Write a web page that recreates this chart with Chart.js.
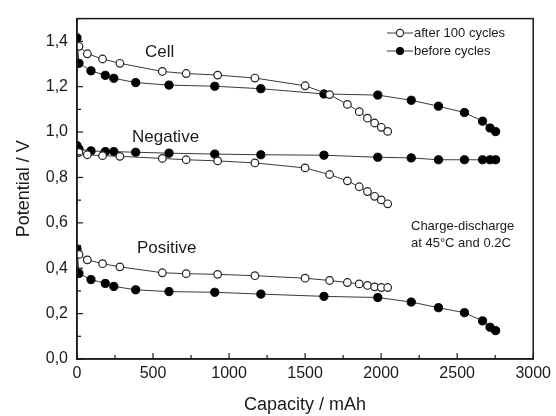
<!DOCTYPE html>
<html><head><meta charset="utf-8">
<script src="https://cdn.jsdelivr.net/npm/chart.js@4.4.1/dist/chart.umd.min.js"></script>
<style>html,body{margin:0;padding:0;background:#fff}#w{width:556px;height:416px}</style>
</head><body><div id="w"><canvas id="c"></canvas></div>
<script>
// capacity (mAh)
const capAfter  = [13, 68, 168, 282, 561, 718, 925, 1170, 1500, 1661, 1778, 1856, 1910, 1957, 2001, 2043];
const capBefore = [0, 13, 92, 186, 242, 386, 605, 906, 1209, 1624, 1978, 2198, 2377, 2548, 2667, 2716, 2753];
// potentials (V)
const cellAfter  = [1.378, 1.345, 1.322, 1.303, 1.267, 1.258, 1.251, 1.238, 1.204, 1.165, 1.122, 1.090, 1.061, 1.040, 1.021, 1.003];
const cellBefore = [1.415, 1.303, 1.270, 1.250, 1.237, 1.218, 1.207, 1.202, 1.191, 1.168, 1.163, 1.140, 1.114, 1.086, 1.048, 1.018, 1.002];
const negAfter   = [0.910, 0.900, 0.896, 0.893, 0.884, 0.878, 0.873, 0.864, 0.842, 0.813, 0.785, 0.759, 0.738, 0.717, 0.701, 0.684];
const negBefore  = [0.940, 0.925, 0.917, 0.914, 0.914, 0.911, 0.907, 0.903, 0.900, 0.898, 0.889, 0.886, 0.878, 0.878, 0.878, 0.878, 0.878];
const posAfter   = [0.461, 0.437, 0.420, 0.406, 0.380, 0.376, 0.373, 0.367, 0.356, 0.346, 0.337, 0.331, 0.324, 0.318, 0.315, 0.315];
const posBefore  = [0.485, 0.377, 0.350, 0.333, 0.320, 0.305, 0.297, 0.294, 0.286, 0.276, 0.271, 0.251, 0.226, 0.204, 0.168, 0.140, 0.125];
const xTicks = [0, 500, 1000, 1500, 2000, 2500, 3000];
const yTicks = [0, 0.2, 0.4, 0.6, 0.8, 1.0, 1.2, 1.4];
const legendLabels = ['after 100 cycles', 'before cycles'];
const curveLabels = ['Cell', 'Negative', 'Positive'];
const noteLines = ['Charge-discharge', 'at 45\u00b0C and 0.2C'];

const FONT = '"Liberation Sans", Arial, sans-serif';
const INK = '#1a1a1a';
const LINE = '#3a3a3a';

function pts(xs, ys){ return xs.map((x,i)=>({x:x, y:ys[i]})); }
function openDs(label, ys){
  return {label, data: pts(capAfter, ys), borderColor: LINE, borderWidth: 1,
    pointRadius: 3.8, pointBackgroundColor: '#fff', pointBorderColor: '#222', pointBorderWidth: 1.2, showLine: true};
}
function fillDs(label, ys){
  return {label, data: pts(capBefore, ys), borderColor: LINE, borderWidth: 1,
    pointRadius: 4.1, pointBackgroundColor: '#000', pointBorderColor: '#000', pointBorderWidth: 1, showLine: true};
}

const decor = {
  id: 'decor',
  afterDraw(chart){
    const ctx = chart.ctx, a = chart.chartArea;
    const xs = chart.scales.x, ys = chart.scales.y;
    ctx.save();
    // frame
    ctx.strokeStyle = INK; ctx.lineWidth = 1.5;
    ctx.strokeRect(a.left, a.top, a.right - a.left, a.bottom - a.top);
    // inward ticks
    ctx.lineWidth = 1.2;
    for (let v = 0; v <= 3000; v += 250){
      const p = xs.getPixelForValue(v), L = (v % 500 === 0) ? 6 : 4;
      ctx.beginPath(); ctx.moveTo(p, a.bottom); ctx.lineTo(p, a.bottom - L); ctx.stroke();
    }
    for (let k = 0; k <= 15; k++){
      const v = k/10, p = ys.getPixelForValue(v), L = (k % 2 === 0) ? 6 : 4;
      ctx.beginPath(); ctx.moveTo(a.left, p); ctx.lineTo(a.left + L, p); ctx.stroke();
    }
    // legend
    const lx0 = 387, lx1 = 413;
    const rows = [33, 51];
    ctx.font = '13px ' + FONT; ctx.textBaseline = 'middle'; ctx.textAlign = 'left';
    rows.forEach((y, i) => {
      ctx.strokeStyle = LINE; ctx.lineWidth = 1;
      ctx.beginPath(); ctx.moveTo(lx0, y); ctx.lineTo(lx1, y); ctx.stroke();
      ctx.beginPath(); ctx.arc(400, y, i === 0 ? 3.6 : 4, 0, Math.PI*2);
      if (i === 0){ ctx.fillStyle = '#fff'; ctx.fill(); ctx.strokeStyle = '#222'; ctx.lineWidth = 1.1; ctx.stroke(); }
      else { ctx.fillStyle = '#000'; ctx.fill(); }
      ctx.fillStyle = INK; ctx.fillText(legendLabels[i], 414, y + 0.5);
    });
    // curve labels
    ctx.font = '17px ' + FONT; ctx.textAlign = 'left'; ctx.fillStyle = INK;
    ctx.fillText(curveLabels[0], 145, 52);
    ctx.fillText(curveLabels[1], 132, 137);
    ctx.fillText(curveLabels[2], 137, 248);
    // note
    ctx.font = '13px ' + FONT;
    ctx.fillText(noteLines[0], 411, 226);
    ctx.fillText(noteLines[1], 411, 243);
    ctx.restore();
  }
};

new Chart(document.getElementById('c'), {
  type: 'scatter',
  data: { datasets: [
    openDs('Cell after', cellAfter), fillDs('Cell before', cellBefore),
    openDs('Negative after', negAfter), fillDs('Negative before', negBefore),
    openDs('Positive after', posAfter), fillDs('Positive before', posBefore)
  ]},
  options: {
    responsive: true, maintainAspectRatio: false, animation: false,
    layout: { padding: { left: 0, right: 21, top: 11, bottom: 0 } },
    plugins: { legend: { display: false }, tooltip: { enabled: false } },
    scales: {
      x: {
        type: 'linear', min: 0, max: 3000,
        grid: { display: false, drawTicks: false },
        border: { display: true, color: INK, width: 1.5 },
        afterBuildTicks(s){ s.ticks = xTicks.map(v => ({value: v})); },
        afterFit(s){ s.height = 57; },
        ticks: { color: INK, font: { family: FONT, size: 16 }, padding: 5, maxRotation: 0,
          callback: v => String(v) },
        title: { display: true, text: 'Capacity / mAh', color: INK, font: { family: FONT, size: 18 }, padding: { top: 0, bottom: 0 } }
      },
      y: {
        type: 'linear', min: 0, max: 1.5,
        grid: { display: false, drawTicks: false },
        border: { display: true, color: INK, width: 1.5 },
        afterBuildTicks(s){ s.ticks = yTicks.map(v => ({value: v})); },
        afterFit(s){ s.width = 77; },
        ticks: { color: INK, font: { family: FONT, size: 16 }, padding: 9,
          callback: v => v.toFixed(1).replace('.', ',') },
        title: { display: true, text: 'Potential / V', color: INK, font: { family: FONT, size: 18 }, padding: { top: 13, bottom: 0 } }
      }
    }
  },
  plugins: [decor]
});
</script></body></html>
